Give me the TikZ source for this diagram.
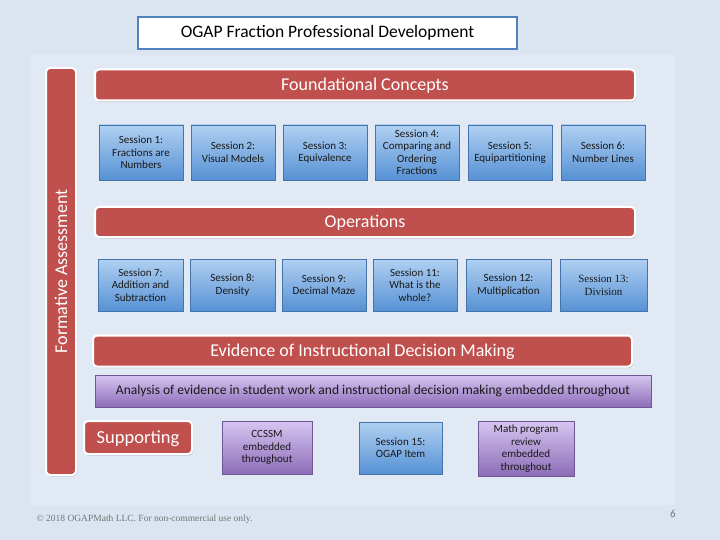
\documentclass[tikz,border=0pt]{standalone}
\usepackage{fontspec}
\setmainfont{Carlito}
\newfontfamily\footfont{Liberation Serif}
\usetikzlibrary{shadows}

\definecolor{pagebg}{RGB}{219,229,241}
\definecolor{panelbg}{RGB}{224,233,244}
\definecolor{framecol}{RGB}{79,129,189}
\definecolor{bannerred}{RGB}{192,80,77}
\definecolor{bluetop}{RGB}{176,208,242}
\definecolor{bluebot}{RGB}{86,145,212}
\definecolor{purptop}{RGB}{214,198,240}
\definecolor{purpbot}{RGB}{140,108,184}

\begin{document}
\begin{tikzpicture}[x=1pt,y=-1pt,
    banner/.style={fill=bannerred, draw=white, line width=2pt, rounded corners=4pt,
      text=white, font=\fontsize{18}{20}\selectfont, text depth=1pt,
      drop shadow={shadow xshift=1pt, shadow yshift=-1.5pt, opacity=0.35}},
    session/.style={top color=bluetop, bottom color=bluebot, draw=bluebot!80!black, line width=0.3pt,
      text=black!90, align=center, inner sep=1pt, font=\fontsize{11}{12.5}\selectfont,
      drop shadow={shadow xshift=1pt, shadow yshift=-1pt, opacity=0.25}},
    embed/.style={top color=purptop, bottom color=purpbot, draw=purpbot!80!black, line width=0.3pt,
      text=black!90, align=center, inner sep=1pt, font=\fontsize{11}{12.5}\selectfont,
      drop shadow={shadow xshift=1pt, shadow yshift=-1pt, opacity=0.25}}]

  % Background
  \fill[pagebg] (0,0) rectangle (720,540);
  \fill[panelbg] (30,55) rectangle (675,505);
  \useasboundingbox (0,0) rectangle (720,540);

  % Title
  \node[fill=white, draw=framecol, line width=1.5pt, minimum width=379pt, minimum height=32pt,
    font=\fontsize{17.5}{19}\selectfont] (title) at (327.5,33) {OGAP Fraction Professional Development};

  % Side bar
  \node[banner, minimum width=30pt, minimum height=407pt] (formative) at (61,271.5) {};
  \node[text=white, rotate=90, font=\fontsize{18}{20}\selectfont] (formtext) at (formative.center) {Formative Assessment};

  % Banners
  \node[banner, minimum width=540pt, minimum height=31pt] (found) at (365,85) {Foundational Concepts};
  \node[banner, minimum width=540pt, minimum height=30pt] (oper) at (365,222) {Operations};
  \node[banner, minimum width=539pt, minimum height=31pt] (evid) at (362.5,351) {Evidence of Instructional Decision Making};
  \node[banner, minimum width=108pt, minimum height=33pt, font=\fontsize{18.5}{20}\selectfont] (supp) at (138,437.5) {Supporting};

  % Sessions, first row
  \node[session, minimum width=84pt, minimum height=55pt] (s1) at (141,152.5) {Session 1:\\Fractions are\\Numbers};
  \node[session, minimum width=84pt, minimum height=55pt] (s2) at (233,152.5) {Session 2:\\Visual Models};
  \node[session, minimum width=84pt, minimum height=55pt] (s3) at (325,152.5) {Session 3:\\Equivalence};
  \node[session, minimum width=84pt, minimum height=55pt] (s4) at (417,152.5) {Session 4:\\Comparing and\\Ordering\\Fractions};
  \node[session, minimum width=84pt, minimum height=55pt] (s5) at (510,152.5) {Session 5:\\Equipartitioning};
  \node[session, minimum width=84pt, minimum height=55pt] (s6) at (603,152.5) {Session 6:\\Number Lines};

  % Sessions, second row
  \node[session, minimum width=85pt, minimum height=52pt] (s7) at (140.5,285) {Session 7:\\Addition and\\Subtraction};
  \node[session, minimum width=85pt, minimum height=52pt] (s8) at (232.5,285) {Session 8:\\Density};
  \node[session, minimum width=84pt, minimum height=52pt] (s9) at (324,285) {Session 9:\\Decimal Maze};
  \node[session, minimum width=84pt, minimum height=52pt] (s11) at (415,285) {Session 11:\\What is the\\whole?};
  \node[session, minimum width=85pt, minimum height=52pt] (s12) at (508.5,285) {Session 12:\\Multiplication};
  \node[session, minimum width=87pt, minimum height=52pt, font=\footfont\fontsize{11}{13}\selectfont] (s13) at (603.5,285) {Session 13:\\Division};

  % Embedded work
  \node[embed, minimum width=556pt, minimum height=32pt, font=\fontsize{13.5}{15}\selectfont] (analysis) at (373,391)
    {Analysis of evidence in student work and instructional decision making embedded throughout};
  \node[embed, minimum width=90pt, minimum height=53pt] (ccssm) at (267,447.5) {CCSSM\\embedded\\throughout};
  \node[session, minimum width=83pt, minimum height=52pt] (s15) at (400.5,448) {Session 15:\\OGAP Item};
  \node[embed, minimum width=96pt, minimum height=55pt] (mathprog) at (526,448.5) {Math program\\review\\embedded\\throughout};

  % Footer
  \node[anchor=west, text=black!55, font=\footfont\fontsize{9.5}{10}\selectfont] (copy) at (33,519)
    {\textcopyright{} 2018 OGAPMath LLC. For non-commercial use only.};
  \node[text=black!55, font=\fontsize{11}{12}\selectfont] (pagenum) at (673,514) {6};
\end{tikzpicture}
\end{document}
